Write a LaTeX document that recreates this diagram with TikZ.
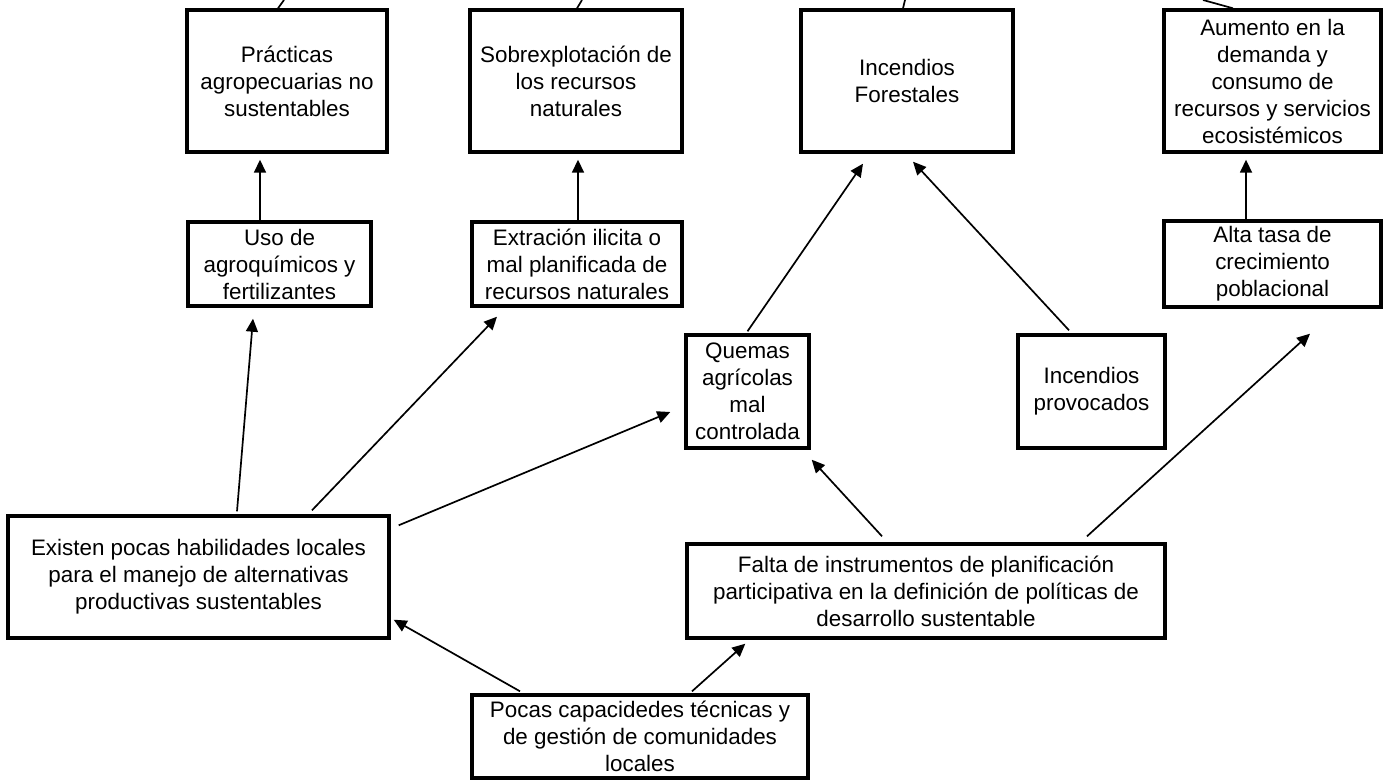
\documentclass[tikz,border=0pt]{standalone}
\usepackage{fontspec}
\setmainfont{Liberation Sans}
\usetikzlibrary{arrows.meta}

\begin{document}
\begin{tikzpicture}[x=1pt, y=-1pt,
    caja/.style={draw, line width=3.4pt, align=center, inner sep=2pt, font=\fontsize{22.4}{27}\selectfont},
    flecha/.style={-{Triangle[length=13pt, width=12pt]}, line width=1.7pt},
    tramo/.style={line width=1.7pt}]

    \useasboundingbox (0,0) rectangle (1388,781);

    % Top row (effects)
    \node[caja, minimum width=200pt, minimum height=142pt] (prac) at (287,81) {Prácticas\\agropecuarias no\\sustentables};
    \node[caja, minimum width=212pt, minimum height=142pt] (sobre) at (576,81) {Sobrexplotación de\\los recursos\\naturales};
    \node[caja, minimum width=212pt, minimum height=142pt] (incf) at (907,81) {Incendios\\Forestales};
    \node[caja, minimum width=217pt, minimum height=142pt] (aum) at (1272.5,81) {Aumento en la\\demanda y\\consumo de\\recursos y servicios\\ecosistémicos};

    % Second row
    \node[caja, minimum width=183pt, minimum height=84pt] (uso) at (279.5,264) {Uso de\\agroquímicos y\\fertilizantes};
    \node[caja, minimum width=210pt, minimum height=84pt] (extr) at (577,264) {Extración ilicita o\\mal planificada de\\recursos naturales};
    \node[caja, minimum width=217pt, minimum height=86pt] (alta) at (1272.5,264) {Alta tasa de\\crecimiento\\poblacional};

    % Third row
    \node[caja, minimum width=123pt, minimum height=113pt] (quemas) at (747.5,391.5) {Quemas\\agrícolas\\mal\\controlada};
    \node[caja, minimum width=147pt, minimum height=113pt] (incprov) at (1091.5,391.5) {Incendios\\provocados};

    % Root causes
    \node[caja, minimum width=381pt, minimum height=122pt] (existen) at (198.5,577) {Existen pocas habilidades locales\\para el manejo de alternativas\\productivas sustentables};
    \node[caja, minimum width=478pt, minimum height=94pt] (falta) at (926,591) {Falta de instrumentos de planificación\\participativa en la definición de políticas de\\desarrollo sustentable};
    \node[caja, minimum width=336pt, minimum height=83pt] (pocas) at (640,736.5) {Pocas capacidedes técnicas y\\de gestión de comunidades\\locales};

    % Lines leaving the picture at the top
    \coordinate (subeA) at (284,0);
    \coordinate (subeB) at (582,0);
    \coordinate (subeC) at (905,0);
    \coordinate (subeD) at (1203,0);
    \draw[tramo] ([xshift=-9pt]prac.north) -- (subeA);
    \draw[tramo] ([xshift=1pt]sobre.north) -- (subeB);
    \draw[tramo] ([xshift=-4pt]incf.north) -- (subeC);
    \draw[tramo] ([xshift=-39.5pt]aum.north) -- (subeD);

    % Vertical arrows
    \draw[flecha] ([xshift=-19.5pt]uso.north) -- ([xshift=-27pt, yshift=-6pt]prac.south);
    \draw[flecha] ([xshift=1pt]extr.north) -- ([xshift=2pt, yshift=-6pt]sobre.south);
    \draw[flecha] ([xshift=-26.5pt]alta.north) -- ([xshift=-26.5pt, yshift=-6pt]aum.south);

    % Arrows from the left root cause
    \draw[flecha] ([xshift=38.5pt, yshift=3pt]existen.north) -- ([xshift=-26.5pt, yshift=-11pt]uso.south);
    \draw[flecha] ([xshift=113.5pt, yshift=4pt]existen.north) -- ([xshift=-80pt, yshift=-9pt]extr.south);
    \draw[flecha] ([xshift=8pt, yshift=-11pt]existen.north east) -- ([xshift=-14pt, yshift=-20.5pt]quemas.west);

    % Arrows into the fires box
    \draw[flecha] ([yshift=2pt]quemas.north) -- ([xshift=-44pt, yshift=-10pt]incf.south);
    \draw[flecha] ([xshift=-22.5pt, yshift=3pt]incprov.north) -- ([xshift=6pt, yshift=-8pt]incf.south);

    % Arrows from the planning box
    \draw[flecha] ([xshift=-44pt, yshift=6pt]falta.north) -- ([xshift=1pt, yshift=-10pt]quemas.south east);
    \draw[flecha] ([xshift=161pt, yshift=6pt]falta.north) -- ([xshift=37.5pt, yshift=-25pt]alta.south);

    % Arrows from the bottom box
    \draw[flecha] ([xshift=-120pt, yshift=2pt]pocas.north) -- ([xshift=3pt, yshift=20pt]existen.south east);
    \draw[flecha] ([xshift=52pt, yshift=2pt]pocas.north) -- ([xshift=60pt, yshift=-4pt]falta.south west);

\end{tikzpicture}
\end{document}
